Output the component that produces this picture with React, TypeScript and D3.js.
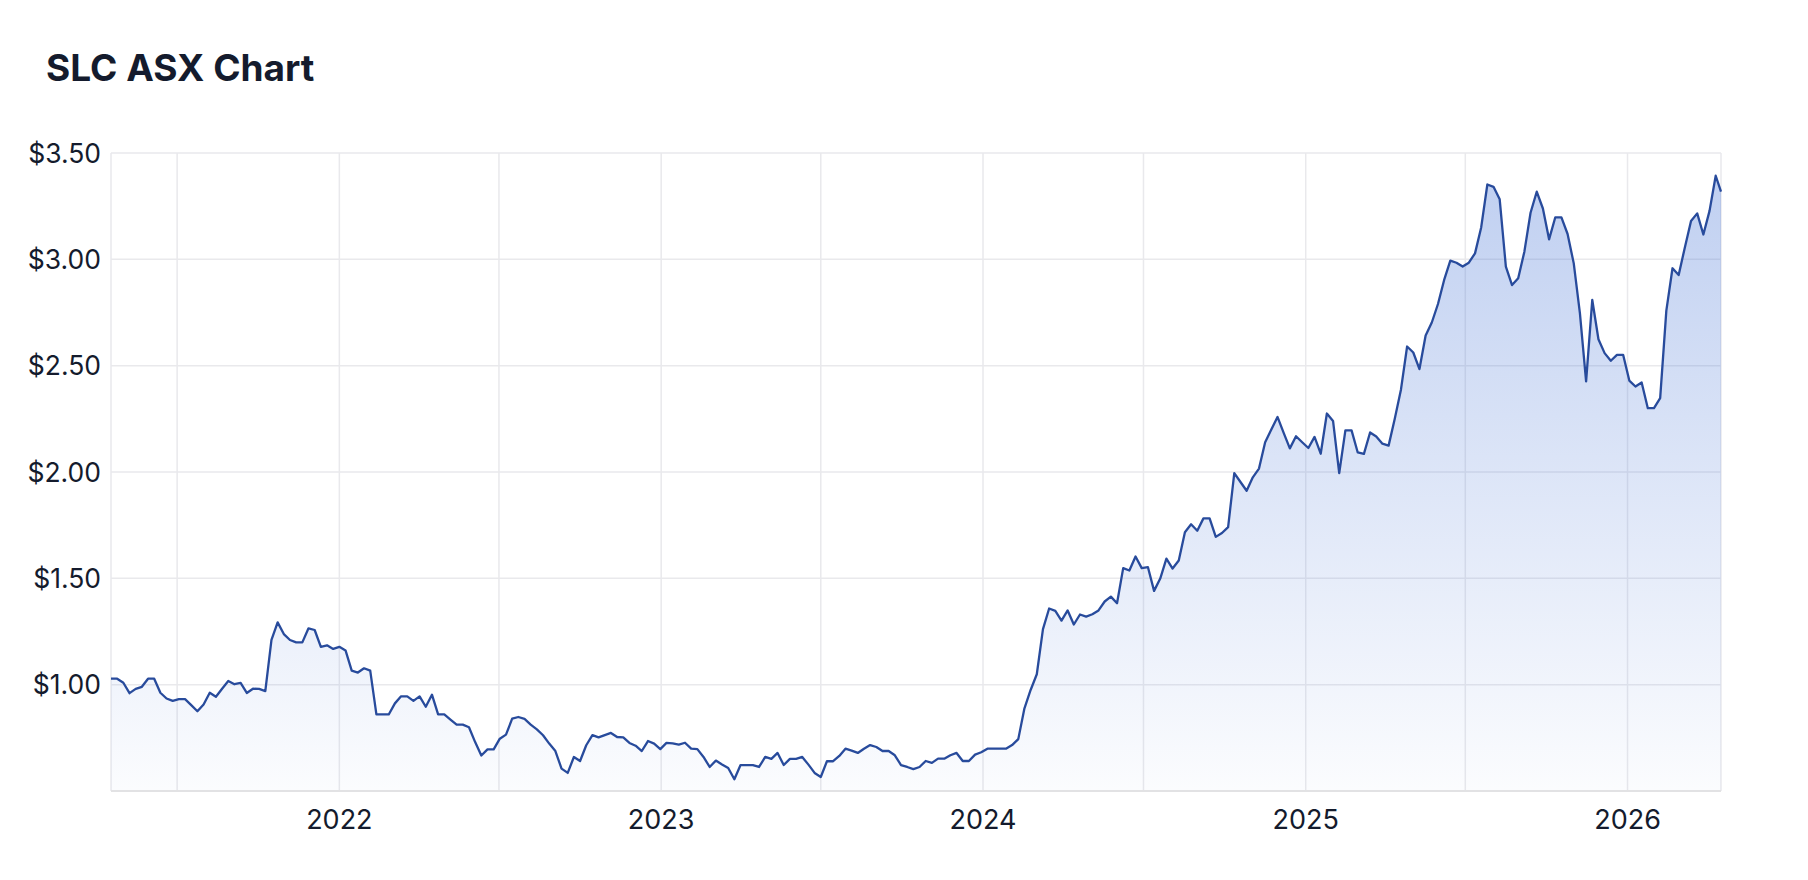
import { useMemo } from 'react';
import * as d3 from 'd3';

// weekly closes (AUD), first week starts 2021-04-17
const firstWeek = '2021-04-17';
const lastDay = '2026-04-17';

const closes2021 = [
  1.028, 1.028, 1.009, 0.96, 0.98, 0.99, 1.028, 1.028, 0.962, 0.935, 0.924, 0.932, 0.932, 0.904,
  0.875, 0.907, 0.962, 0.943, 0.981, 1.017, 1.002, 1.008, 0.961, 0.981, 0.98, 0.97, 1.211, 1.293,
  1.238, 1.21, 1.199, 1.199, 1.265, 1.257, 1.178, 1.185, 1.168,
];
const closes2022 = [
  1.178, 1.161, 1.066, 1.057, 1.077, 1.066, 0.86, 0.86, 0.86, 0.912, 0.945, 0.945, 0.924, 0.945,
  0.896, 0.953, 0.86, 0.86, 0.836, 0.812, 0.812, 0.8, 0.73, 0.667, 0.696, 0.696, 0.746, 0.765,
  0.84, 0.848, 0.839, 0.812, 0.79, 0.762, 0.723, 0.688, 0.605, 0.585, 0.66, 0.641, 0.715, 0.763,
  0.752, 0.763, 0.773, 0.754, 0.752, 0.726, 0.713, 0.688, 0.735, 0.723, 0.697,
];
const closes2023 = [
  0.726, 0.724, 0.718, 0.727, 0.699, 0.697, 0.66, 0.613, 0.643, 0.625, 0.608, 0.555, 0.622, 0.622,
  0.622, 0.613, 0.66, 0.651, 0.679, 0.622, 0.651, 0.651, 0.66, 0.624, 0.585, 0.566, 0.64, 0.64,
  0.665, 0.699, 0.69, 0.679, 0.699, 0.716, 0.707, 0.688, 0.688, 0.668, 0.622, 0.613, 0.603, 0.613,
  0.641, 0.632, 0.652, 0.652, 0.668, 0.679, 0.641, 0.641, 0.671, 0.682,
];
const closes2024 = [
  0.699, 0.699, 0.699, 0.699, 0.716, 0.744, 0.889, 0.975, 1.049, 1.261, 1.358, 1.347, 1.301, 1.349,
  1.283, 1.33, 1.32, 1.331, 1.349, 1.391, 1.414, 1.383, 1.548, 1.537, 1.603, 1.548, 1.553, 1.441,
  1.499, 1.593, 1.546, 1.584, 1.717, 1.754, 1.724, 1.782, 1.782, 1.695, 1.713, 1.741, 1.995, 1.953,
  1.912, 1.975, 2.016, 2.14, 2.2, 2.259, 2.184, 2.111, 2.168, 2.14,
];
const closes2025 = [
  2.113, 2.165, 2.086, 2.275, 2.24, 1.995, 2.196, 2.196, 2.092, 2.085, 2.186, 2.167, 2.133, 2.124,
  2.25, 2.387, 2.59, 2.562, 2.484, 2.642, 2.703, 2.79, 2.903, 2.994, 2.984, 2.966, 2.984, 3.028,
  3.15, 3.352, 3.341, 3.282, 2.966, 2.879, 2.911, 3.036, 3.219, 3.318, 3.239, 3.094, 3.197, 3.197,
  3.119, 2.981, 2.746, 2.426, 2.809, 2.624, 2.559, 2.523, 2.551, 2.551,
];
const closes2026 = [
  2.43, 2.402, 2.421, 2.3, 2.3, 2.347, 2.759, 2.958, 2.926, 3.056, 3.18, 3.216, 3.117, 3.228, 3.393,
];
const lastClose = 3.318;

const priceTicks = [1, 1.5, 2, 2.5, 3, 3.5];
const yearLabels = ['2022', '2023', '2024', '2025', '2026'];

const width = 1808;
const height = 880;
const margin = { top: 153, right: 87, bottom: 89, left: 111 };

type Point = { date: Date; close: number };

export default function App() {
  const data = useMemo<Point[]>(() => {
    const start = new Date(firstWeek + 'T00:00:00Z');
    const weekly = [...closes2021, ...closes2022, ...closes2023, ...closes2024, ...closes2025, ...closes2026];
    const pts = weekly.map((close, i) => ({ date: d3.utcDay.offset(start, i * 7), close }));
    pts.push({ date: new Date(lastDay + 'T00:00:00Z'), close: lastClose });
    return pts;
  }, []);

  const innerWidth = width - margin.left - margin.right;
  const innerHeight = height - margin.top - margin.bottom;

  const x = d3
    .scaleUtc()
    .domain([new Date(firstWeek + 'T00:00:00Z'), new Date(lastDay + 'T00:00:00Z')])
    .range([0, innerWidth]);
  const y = d3.scaleLinear().domain([0.5, 3.5]).range([innerHeight, 0]);

  const line = d3
    .line<Point>()
    .x((d) => x(d.date))
    .y((d) => y(d.close));
  const area = d3
    .area<Point>()
    .x((d) => x(d.date))
    .y0(innerHeight)
    .y1((d) => y(d.close));

  const halfYears = d3.utcMonth.every(6)!.range(x.domain()[0], x.domain()[1]);
  const yearDates = yearLabels.map((yr) => new Date(`${yr}-01-01T00:00:00Z`));

  const textColor = '#141b2d';
  const gridColor = '#e9e9ec';

  return (
    <svg
      width={width}
      height={height}
      style={{ position: 'absolute', left: 0, top: 0, background: '#fff' }}
      fontFamily="Inter, 'Noto Sans', sans-serif"
    >
      <title>SLC ASX Chart</title>
      <defs>
        <linearGradient id="fillGrad" gradientUnits="userSpaceOnUse" x1="0" y1="0" x2="0" y2={innerHeight}>
          <stop offset="0%" stopColor="#3f6fd4" stopOpacity={0.34} />
          <stop offset="100%" stopColor="#3f6fd4" stopOpacity={0.02} />
        </linearGradient>
      </defs>
      <text x={46} y={81} fontSize={37} fontWeight={700} fill={textColor}>
        SLC ASX Chart
      </text>
      <g transform={`translate(${margin.left},${margin.top})`}>
        {priceTicks.map((t) => (
          <line key={t} x1={0} x2={innerWidth} y1={y(t)} y2={y(t)} stroke={gridColor} strokeWidth={1.5} />
        ))}
        {halfYears.map((d) => (
          <line
            key={d.toISOString()}
            x1={x(d)}
            x2={x(d)}
            y1={0}
            y2={innerHeight}
            stroke={gridColor}
            strokeWidth={1.5}
          />
        ))}
        <line x1={0} x2={0} y1={0} y2={innerHeight} stroke={gridColor} strokeWidth={1.5} />
        <line x1={innerWidth} x2={innerWidth} y1={0} y2={innerHeight} stroke={gridColor} strokeWidth={1.5} />
        <path d={area(data)!} fill="url(#fillGrad)" />
        <path d={line(data)!} fill="none" stroke="#284b9c" strokeWidth={2.3} strokeLinejoin="round" />
        <line x1={0} x2={innerWidth} y1={innerHeight} y2={innerHeight} stroke="#e2e2e4" strokeWidth={2} />
        {priceTicks.map((t) => (
          <text
            key={t}
            x={-10}
            y={y(t)}
            dy="0.36em"
            textAnchor="end"
            fontSize={26.5}
            fill={textColor}
          >
            {d3.format('$.2f')(t)}
          </text>
        ))}
        {yearDates.map((d, i) => (
          <text
            key={yearLabels[i]}
            x={x(d)}
            y={innerHeight + 38}
            textAnchor="middle"
            fontSize={27}
            fill={textColor}
          >
            {yearLabels[i]}
          </text>
        ))}
      </g>
    </svg>
  );
}
